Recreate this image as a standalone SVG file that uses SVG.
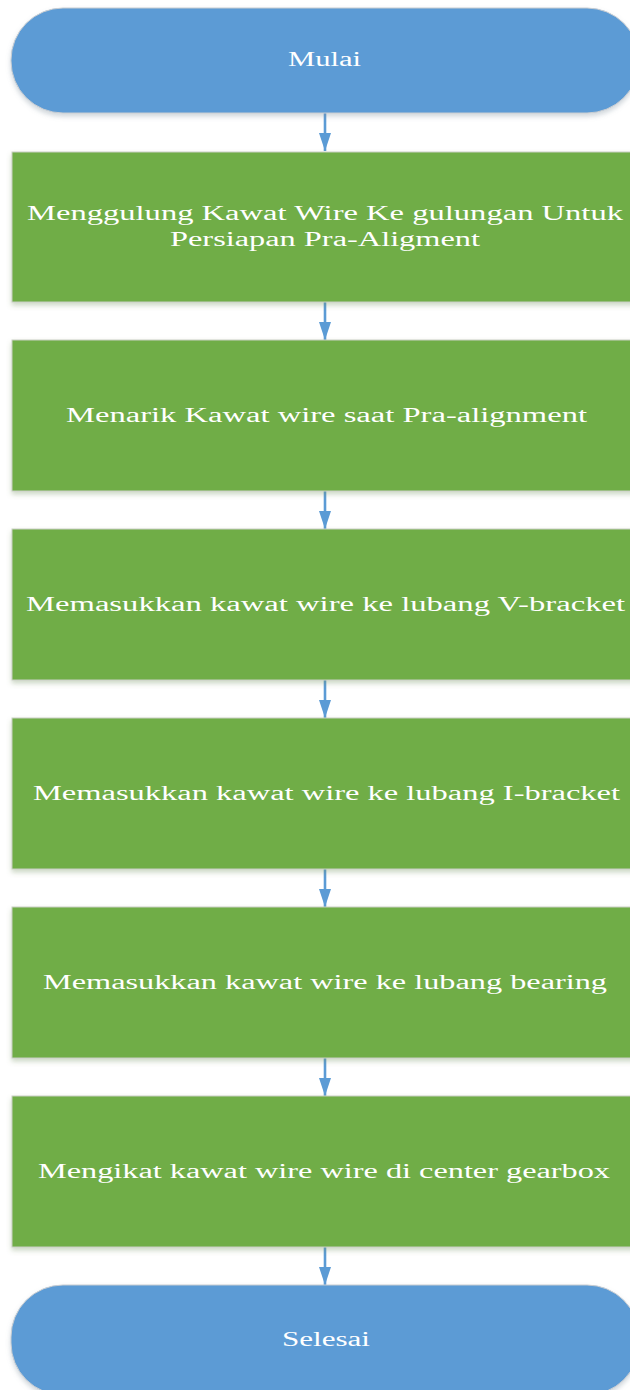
<svg xmlns="http://www.w3.org/2000/svg" width="630" height="1390" viewBox="0 0 630 1390">
  <style>
    .term { fill: #5B9BD5; stroke: #C9CDD2; stroke-width: 1; }
    .step { fill: #70AD47; stroke: #C9CFC4; stroke-width: 1; }
    .label { font-family: "Liberation Serif", "Times New Roman", serif; font-size: 20px; fill: #FFFFFF; text-anchor: middle; }
    .link { stroke: #5B9BD5; stroke-width: 2.6; fill: none; }
  </style>
  <defs>
    <filter id="shadow" x="-5%" y="-10%" width="110%" height="130%">
      <feDropShadow dx="0" dy="3" stdDeviation="2.5" flood-color="#6E8F5A" flood-opacity="0.35"/>
    </filter>
    <filter id="shadowBlue" x="-5%" y="-10%" width="110%" height="130%">
      <feDropShadow dx="0" dy="3" stdDeviation="2.5" flood-color="#7A8A99" flood-opacity="0.35"/>
    </filter>
    <marker id="arrow" viewBox="0 0 18 12" refX="18" refY="6" markerUnits="userSpaceOnUse" markerWidth="18" markerHeight="12" orient="auto">
      <path d="M0,0 L18,6 L0,12 Z" fill="#5B9BD5"/>
    </marker>
  </defs>

  <!-- connectors -->
  <g id="connectors">
    <line class="link" x1="325" y1="113" x2="325" y2="151" marker-end="url(#arrow)"/>
    <line class="link" x1="325" y1="302" x2="325" y2="340" marker-end="url(#arrow)"/>
    <line class="link" x1="325" y1="491" x2="325" y2="529" marker-end="url(#arrow)"/>
    <line class="link" x1="325" y1="680" x2="325" y2="718" marker-end="url(#arrow)"/>
    <line class="link" x1="325" y1="869" x2="325" y2="907" marker-end="url(#arrow)"/>
    <line class="link" x1="325" y1="1058" x2="325" y2="1096" marker-end="url(#arrow)"/>
    <line class="link" x1="325" y1="1247" x2="325" y2="1285" marker-end="url(#arrow)"/>
  </g>

  <g id="start">
    <rect class="term" x="11" y="8" width="628" height="105" rx="52" ry="52" filter="url(#shadowBlue)"/>
    <text class="label" x="324.5" y="66" textLength="73" lengthAdjust="spacingAndGlyphs">Mulai</text>
  </g>

  <g id="step1">
    <rect class="step" x="12" y="152" width="630" height="150" filter="url(#shadow)"/>
    <text class="label" x="325" y="220" textLength="596" lengthAdjust="spacingAndGlyphs">Menggulung Kawat Wire Ke gulungan Untuk</text>
    <text class="label" x="325" y="246" textLength="310" lengthAdjust="spacingAndGlyphs">Persiapan Pra-Aligment</text>
  </g>

  <g id="step2">
    <rect class="step" x="12" y="340" width="630" height="151" filter="url(#shadow)"/>
    <text class="label" x="326.5" y="422" textLength="521" lengthAdjust="spacingAndGlyphs">Menarik Kawat wire saat Pra-alignment</text>
  </g>

  <g id="step3">
    <rect class="step" x="12" y="529" width="630" height="151" filter="url(#shadow)"/>
    <text class="label" x="325.5" y="611" textLength="599" lengthAdjust="spacingAndGlyphs">Memasukkan kawat wire ke lubang V-bracket</text>
  </g>

  <g id="step4">
    <rect class="step" x="12" y="718" width="630" height="151" filter="url(#shadow)"/>
    <text class="label" x="326.5" y="800" textLength="587" lengthAdjust="spacingAndGlyphs">Memasukkan kawat wire ke lubang I-bracket</text>
  </g>

  <g id="step5">
    <rect class="step" x="12" y="907" width="630" height="151" filter="url(#shadow)"/>
    <text class="label" x="325" y="989" textLength="564" lengthAdjust="spacingAndGlyphs">Memasukkan kawat wire ke lubang bearing</text>
  </g>

  <g id="step6">
    <rect class="step" x="12" y="1096" width="630" height="151" filter="url(#shadow)"/>
    <text class="label" x="324" y="1178" textLength="572" lengthAdjust="spacingAndGlyphs">Mengikat kawat wire wire di center gearbox</text>
  </g>

  <g id="end">
    <rect class="term" x="11" y="1285" width="628" height="110" rx="52" ry="52" filter="url(#shadowBlue)"/>
    <text class="label" x="326" y="1346" textLength="88" lengthAdjust="spacingAndGlyphs">Selesai</text>
  </g>
</svg>
